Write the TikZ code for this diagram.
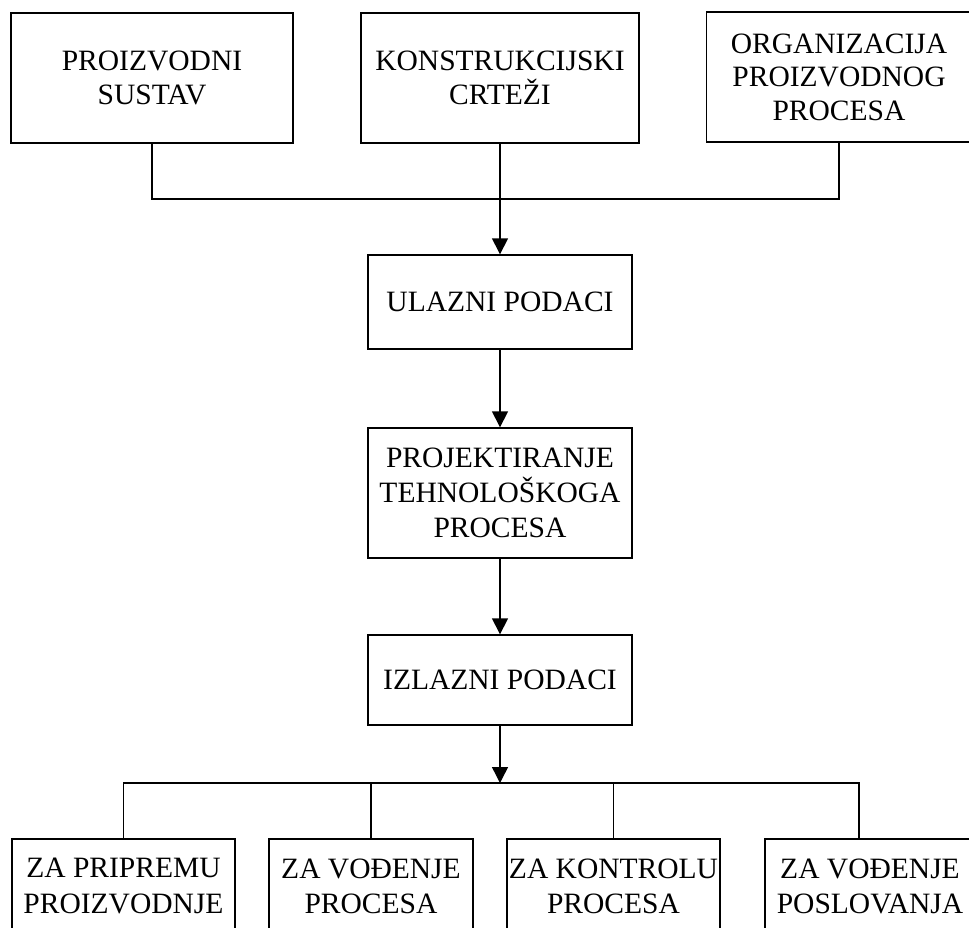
\documentclass[tikz,border=0pt]{standalone}
\usepackage{fontspec}
\setmainfont{Liberation Serif}
\usepackage{tikz}
\usetikzlibrary{arrows.meta}

\begin{document}
\begin{tikzpicture}[x=0.02cm, y=-0.02cm,
  box/.style={draw, line width=0.8pt, align=center, inner sep=0pt,
    font=\fontsize{16.8pt}{19pt}\selectfont},
  tall/.style={box, minimum height=2.6cm},
  low/.style={box, minimum height=1.88cm,
    font=\fontsize{16.8pt}{20pt}\selectfont},
  arr/.style={-{Triangle[length=0.32cm, width=0.32cm]}, line width=0.8pt},
  link/.style={line width=0.8pt}]
  \useasboundingbox (0,0) rectangle (969,927);
  \node[tall, minimum width=5.64cm] (sustav) at (152,78) {PROIZVODNI\\SUSTAV};
  \node[tall, minimum width=5.56cm] (crtezi) at (500,78) {KONSTRUKCIJSKI\\CRTEŽI};
  \node[tall, minimum width=5.3cm] (organizacija) at (839,77)
       {ORGANIZACIJA\\PROIZVODNOG\\PROCESA};
  \node[box, minimum width=5.28cm, minimum height=1.88cm] (ulazni) at (500,302)
       {ULAZNI PODACI};
  \node[tall, minimum width=5.28cm, font=\fontsize{16.8pt}{20pt}\selectfont]
       (projekt) at (500,493) {PROJEKTIRANJE\\TEHNOLOŠKOGA\\PROCESA};
  \node[box, minimum width=5.28cm, minimum height=1.8cm] (izlazni) at (500,680)
       {IZLAZNI PODACI};
  \node[low, minimum width=4.46cm] (priprema) at (123.5,886) {ZA PRIPREMU\\PROIZVODNJE};
  \node[low, minimum width=4.08cm] (vodproc) at (371,886) {ZA VOĐENJE\\PROCESA};
  \node[low, minimum width=4.26cm] (kontrola) at (613.5,886) {ZA KONTROLU\\PROCESA};
  \node[low, minimum width=4.2cm] (poslovanje) at (870,886) {ZA VOĐENJE\\POSLOVANJA};

  \coordinate (topjoin) at (500,199);
  \coordinate (botjoin) at (500,783);
  \coordinate (dropfour) at (859,839);
  \draw[link] (sustav.south) |- (topjoin) -| (organizacija.south);
  \draw[arr] (crtezi.south) -- (ulazni.north);
  \draw[arr] (ulazni) -- (projekt);
  \draw[arr] (projekt) -- (izlazni);
  \draw[arr] (izlazni.south) -- (botjoin);
  \draw[link] (priprema.north) |- (botjoin) -| (dropfour);
  \draw[link] (vodproc.north) -- (vodproc.north |- botjoin);
  \draw[link] (kontrola.north) -- (kontrola.north |- botjoin);
\end{tikzpicture}
\end{document}
